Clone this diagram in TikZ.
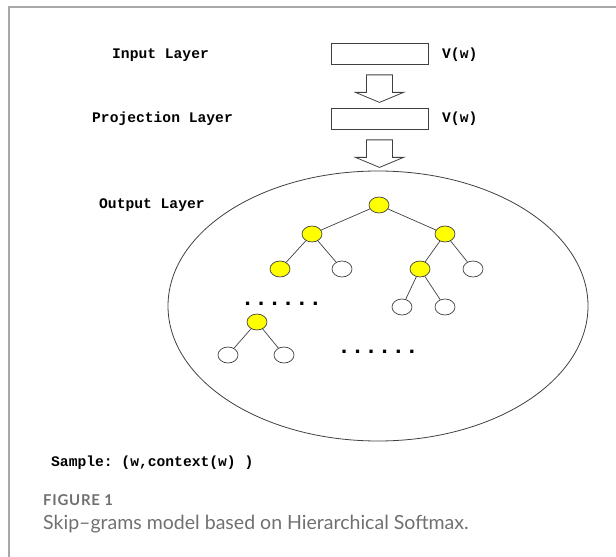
\documentclass[tikz,border=0pt]{standalone}
\usepackage{fontspec}
\setmonofont{Liberation Mono}
\newfontfamily\capfont{Lato}
\newfontfamily\capnumfont{Lato}[LetterSpace=5]
\usetikzlibrary{shapes.geometric,calc}
\definecolor{framegray}{HTML}{A8A8A8}
\definecolor{capgray}{HTML}{707070}
\definecolor{nodeyellow}{HTML}{FFFF00}

\begin{document}
\begin{tikzpicture}[x=1bp,y=-1bp,
	every node/.style={inner sep=0pt},
	layerbox/.style={draw=black!75, line width=0.8bp, minimum width=97bp, minimum height=21bp},
	layertext/.style={anchor=base west, font=\fontsize{14.7}{16}\selectfont\ttfamily\bfseries},
	dotrow/.style={anchor=base, font=\fontsize{22.7}{24}\selectfont\ttfamily\bfseries},
	blockarrow/.style={draw=black!75, line width=0.8bp, fill=white},
	tnode/.style={ellipse, draw=black!75, line width=0.7bp, fill=white, minimum width=20bp, minimum height=16bp},
	tnodeY/.style={tnode, fill=nodeyellow},
	branch/.style={draw=black!75, line width=0.7bp}]
	\useasboundingbox (0,0) rectangle (616,557);
	% frame
	\draw[framegray, line width=1.5bp] (9,557) -- (9,7) -- (616,7);
	% layers
	\node[layerbox] (inbox) at (379.5,53.5) {};
	\node[layerbox] (projbox) at (379.5,118.5) {};
	\node[layertext] (intext) at (112,59) {Input Layer};
	\node[layertext] (projtext) at (92,122.5) {Projection Layer};
	\node[layertext] (outtext) at (99,209) {Output Layer};
	\node[layertext] (invec) at (442,58.5) {V(w)};
	\node[layertext] (projvec) at (442,122.5) {V(w)};
	\foreach \b in {inbox,projbox}
		\draw[blockarrow] ($(\b.south)+(-13,10.5)$) -- ++(26,0) -- ++(0,17.5) -- ++(11,0)
			-- ++(-24,10) -- ++(-24,-10) -- ++(11,0) -- cycle;
	% output layer
	\draw[black!75, line width=0.8bp] (378,306) ellipse (210 and 135);
	\node[tnodeY] (root) at (379,205) {};
	\node[tnodeY] (a) at (312,234) {};
	\node[tnodeY] (b) at (445,234) {};
	\node[tnodeY] (aa) at (280,269) {};
	\node[tnode] (ab) at (342,269) {};
	\node[tnodeY] (ba) at (420,269) {};
	\node[tnode] (bb) at (473,269) {};
	\node[tnode] (baa) at (402,307) {};
	\node[tnode] (bab) at (445,307) {};
	\node[tnodeY] (c) at (257,322) {};
	\node[tnode] (ca) at (228,355) {};
	\node[tnode] (cb) at (284,355) {};
	\foreach \p/\q in {root/a,root/b,a/aa,a/ab,b/ba,b/bb,ba/baa,ba/bab,c/ca,c/cb}
		\draw[branch] (\p) -- (\q);
	\node[dotrow] (dotsa) at (281.5,305) {......};
	\node[dotrow] (dotsb) at (378,353) {......};
	% sample and caption
	\node[anchor=base west, text=capgray, font={\fontsize{15}{17}\selectfont\capnumfont\bfseries}] (fignum) at (43,505) {FIGURE 1};
	\node[anchor=base west, text=capgray, font={\fontsize{19.6}{23}\selectfont\capfont}] (figcap) at (43,529) {Skip–grams model based on Hierarchical Softmax.};
	\node[layertext] (sample) at (51,466.7) {Sample: (w,context(w) )};
\end{tikzpicture}
\end{document}
